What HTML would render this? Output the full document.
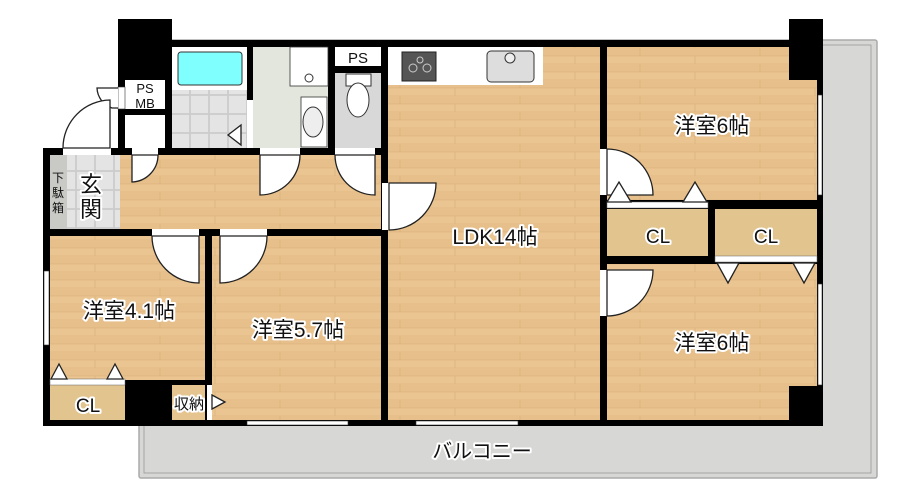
<!DOCTYPE html>
<html><head><meta charset="utf-8"><style>
html,body{margin:0;padding:0;background:#fff;}
svg{display:block;}
text{font-family:"Liberation Sans","Noto Sans CJK JP",sans-serif;}
.lb{fill:#111;stroke:#fff;stroke-width:4;paint-order:stroke;stroke-linejoin:round;}
.d{fill:#fff;stroke:#222;stroke-width:1.3;}
</style></head><body>
<svg width="916" height="500" viewBox="0 0 916 500" xmlns="http://www.w3.org/2000/svg">
<defs>
<pattern id="wood" width="120" height="16" patternUnits="userSpaceOnUse">
<rect width="120" height="16" fill="#eac592"/>
<rect y="0" width="120" height="8" fill="#e6bf8a"/>
<line x1="0" y1="8" x2="120" y2="8" stroke="#d9ad76" stroke-width="0.6"/>
<line x1="0" y1="16" x2="120" y2="16" stroke="#d9ad76" stroke-width="0.6"/>
<line x1="40" y1="0" x2="40" y2="8" stroke="#d9ad76" stroke-width="0.6"/>
<line x1="95" y1="8" x2="95" y2="16" stroke="#d9ad76" stroke-width="0.6"/>
</pattern>
<pattern id="tile" width="19" height="19" patternUnits="userSpaceOnUse">
<rect width="19" height="19" fill="#d6d6d6"/>
<rect x="0.5" y="0.5" width="18" height="18" fill="#e4e4e4" stroke="#c4c4c4" stroke-width="0.6"/>
</pattern>
</defs>
<!-- balcony -->
<rect x="139" y="40" width="738" height="438" rx="2" fill="#d7d7d5" stroke="#aaa" stroke-width="1.5"/>
<rect x="144" y="45" width="727" height="428" fill="none" stroke="#999" stroke-width="0.8"/>
<!-- building footprint black -->
<polygon points="118,19 172,19 172,40 789,40 789,19 823,19 823,426 43,426 43,148 118,148" fill="#000"/>
<!-- floors -->
<rect x="50" y="155" width="331" height="74" fill="url(#wood)"/>
<rect x="388" y="85" width="212" height="335" fill="url(#wood)"/>
<rect x="388" y="47" width="212" height="40" fill="url(#wood)"/>
<rect x="607" y="47" width="182" height="153" fill="url(#wood)"/>
<rect x="789" y="80" width="28" height="120" fill="url(#wood)"/>
<rect x="607" y="264" width="210" height="122" fill="url(#wood)"/>
<rect x="607" y="386" width="182" height="34" fill="url(#wood)"/>
<rect x="50" y="236" width="155" height="144" fill="url(#wood)"/>
<rect x="212" y="236" width="169" height="184" fill="url(#wood)"/>
<rect x="172" y="385" width="33" height="35" fill="#e6c48f"/>
<rect x="607" y="209" width="101" height="47" fill="#e2c48f"/>
<rect x="715" y="209" width="102" height="47" fill="#e2c48f"/>
<rect x="50" y="385" width="75" height="35" fill="#e2c48f"/>
<!-- genkan -->
<rect x="67" y="155" width="53" height="74" fill="url(#tile)"/>
<rect x="50" y="155" width="17" height="74" fill="#c9c9c6"/>
<!-- kitchen counter -->
<rect x="388" y="47" width="155" height="38" fill="#fff"/>
<rect x="402" y="52" width="34" height="29" fill="#555" stroke="#222"/>
<circle cx="413" cy="68" r="4" fill="none" stroke="#ccc"/><circle cx="427" cy="68" r="4" fill="none" stroke="#ccc"/><circle cx="420" cy="60" r="3" fill="none" stroke="#ccc"/>
<rect x="487" y="51" width="47" height="31" rx="4" fill="#ddd" stroke="#333"/>
<circle cx="510" cy="58" r="5" fill="#eee" stroke="#333"/>
<!-- bath -->
<rect x="172" y="47" width="75" height="101" fill="#fff"/>
<rect x="172" y="90" width="75" height="58" fill="url(#tile)"/>
<rect x="178" y="52" width="64" height="33" rx="3" fill="#80ffff" stroke="#333"/>
<polygon points="241,125 228,135 241,145" class="d"/>
<rect x="247" y="100" width="6" height="48" fill="#fff"/>
<!-- washroom -->
<rect x="253" y="47" width="75" height="101" fill="#e2e6dc"/>
<rect x="290" y="47" width="38" height="39" fill="#fff" stroke="#333" stroke-width="0.8"/>
<circle cx="309" cy="78" r="4" fill="#fff" stroke="#333"/>
<rect x="301" y="97" width="26" height="50" fill="#fff" stroke="#333" stroke-width="0.8"/>
<ellipse cx="313" cy="122" rx="10" ry="15" fill="#eee" stroke="#333"/>
<!-- toilet -->
<rect x="335" y="47" width="46" height="101" fill="#d8d8d8"/>
<rect x="335" y="47" width="46" height="19" fill="#fff"/>
<rect x="335" y="66" width="46" height="7" fill="#000"/>
<rect x="346" y="74" width="25" height="12" fill="#fff" stroke="#333"/>
<ellipse cx="358" cy="100" rx="11" ry="17" fill="#fff" stroke="#333"/>
<text x="358" y="63" font-size="15" text-anchor="middle" fill="#111">PS</text>
<!-- PS MB -->
<rect x="125" y="80" width="40" height="29" fill="#fff"/>
<rect x="125" y="115" width="40" height="33" fill="#fff"/>
<text x="145" y="93" font-size="13" text-anchor="middle" fill="#111">PS</text>
<text x="145" y="108" font-size="13" text-anchor="middle" fill="#111">MB</text>
<rect x="118" y="87" width="7" height="22" fill="#fff" stroke="#333" stroke-width="0.6"/>
<path d="M118,108 L112,108 A22,22 0 0 1 97,88 L118,88" class="d"/>
<!-- entrance opening & door -->
<rect x="63" y="148" width="48" height="7" fill="#fff"/>
<path d="M110,148 L110,100 A48,48 0 0 0 63,148 Z" class="d"/>
<!-- windows -->
<rect x="247" y="421" width="101" height="4" fill="#fff" stroke="#333" stroke-width="0.6"/>
<rect x="416" y="421" width="102" height="4" fill="#fff" stroke="#333" stroke-width="0.6"/>
<rect x="818" y="95" width="4" height="100" fill="#fff" stroke="#333" stroke-width="0.6"/>
<rect x="818" y="284" width="4" height="101" fill="#fff" stroke="#333" stroke-width="0.6"/>
<rect x="44" y="271" width="5" height="74" fill="#fff" stroke="#333" stroke-width="0.6"/>
<!-- door openings -->
<rect x="132" y="148" width="26" height="7" fill="#fff"/>
<rect x="260" y="148" width="40" height="7" fill="#fff"/>
<rect x="335" y="148" width="40" height="7" fill="#fff"/>
<rect x="382" y="183" width="7" height="47" fill="#fff"/>
<rect x="152" y="229" width="47" height="7" fill="#fff"/>
<rect x="220" y="229" width="47" height="7" fill="#fff"/>
<rect x="600" y="149" width="7" height="46" fill="#fff"/>
<rect x="600" y="270" width="7" height="46" fill="#fff"/>
<rect x="207" y="385" width="5" height="35" fill="#fff"/>
<rect x="50" y="379" width="75" height="6" fill="#fff" stroke="#666" stroke-width="0.5"/>
<rect x="607" y="202" width="101" height="6" fill="#fff" stroke="#666" stroke-width="0.5"/>
<rect x="715" y="256" width="102" height="6" fill="#fff" stroke="#666" stroke-width="0.5"/>
<!-- doors -->
<path d="M132,155 L132,182 A27,27 0 0 0 158,155 Z" class="d"/>
<path d="M260,155 L260,195 A40,40 0 0 0 300,155 Z" class="d"/>
<path d="M375,155 L375,195 A40,40 0 0 1 335,155 Z" class="d"/>
<path d="M389,230 L389,183 L436,183 A47,47 0 0 1 389,230 Z" class="d"/>
<path d="M199,236 L199,283 A47,47 0 0 1 152,236 Z" class="d"/>
<path d="M220,236 L220,283 A47,47 0 0 0 267,236 Z" class="d"/>
<path d="M607,195 L653,195 A46,46 0 0 0 607,149 Z" class="d"/>
<path d="M607,270 L653,270 A46,46 0 0 1 607,316 Z" class="d"/>
<!-- CL triangles -->
<polygon points="51,379 59,364 67,379" class="d"/>
<polygon points="107,379 115,364 123,379" class="d"/>
<polygon points="607,202 619,182 631,202" class="d"/>
<polygon points="683,202 695,182 707,202" class="d"/>
<polygon points="717,263 728,283 739,263" class="d"/>
<polygon points="793,263 804,283 815,263" class="d"/>
<polygon points="212,395 225,402 212,409" class="d"/>
<!-- labels -->
<text x="495" y="244" font-size="21" text-anchor="middle" class="lb">LDK14帖</text>
<text x="712" y="133" font-size="21" text-anchor="middle" class="lb">洋室6帖</text>
<text x="712" y="350" font-size="21" text-anchor="middle" class="lb">洋室6帖</text>
<text x="129" y="318" font-size="21" text-anchor="middle" class="lb">洋室4.1帖</text>
<text x="298" y="337" font-size="21" text-anchor="middle" class="lb">洋室5.7帖</text>
<text x="658" y="243" font-size="19" text-anchor="middle" class="lb">CL</text>
<text x="766" y="243" font-size="19" text-anchor="middle" class="lb">CL</text>
<text x="88" y="412" font-size="19" text-anchor="middle" class="lb">CL</text>
<text x="189" y="409" font-size="15" text-anchor="middle" class="lb">収納</text>
<text x="91" y="192" font-size="22" text-anchor="middle" class="lb">玄</text>
<text x="91" y="217" font-size="22" text-anchor="middle" class="lb">関</text>
<text x="58" y="182" font-size="12" text-anchor="middle" fill="#111">下</text>
<text x="58" y="197" font-size="12" text-anchor="middle" fill="#111">駄</text>
<text x="58" y="212" font-size="12" text-anchor="middle" fill="#111">箱</text>
<text x="482" y="458" font-size="20" text-anchor="middle" class="lb">バルコニー</text>
</svg>
</body></html>
